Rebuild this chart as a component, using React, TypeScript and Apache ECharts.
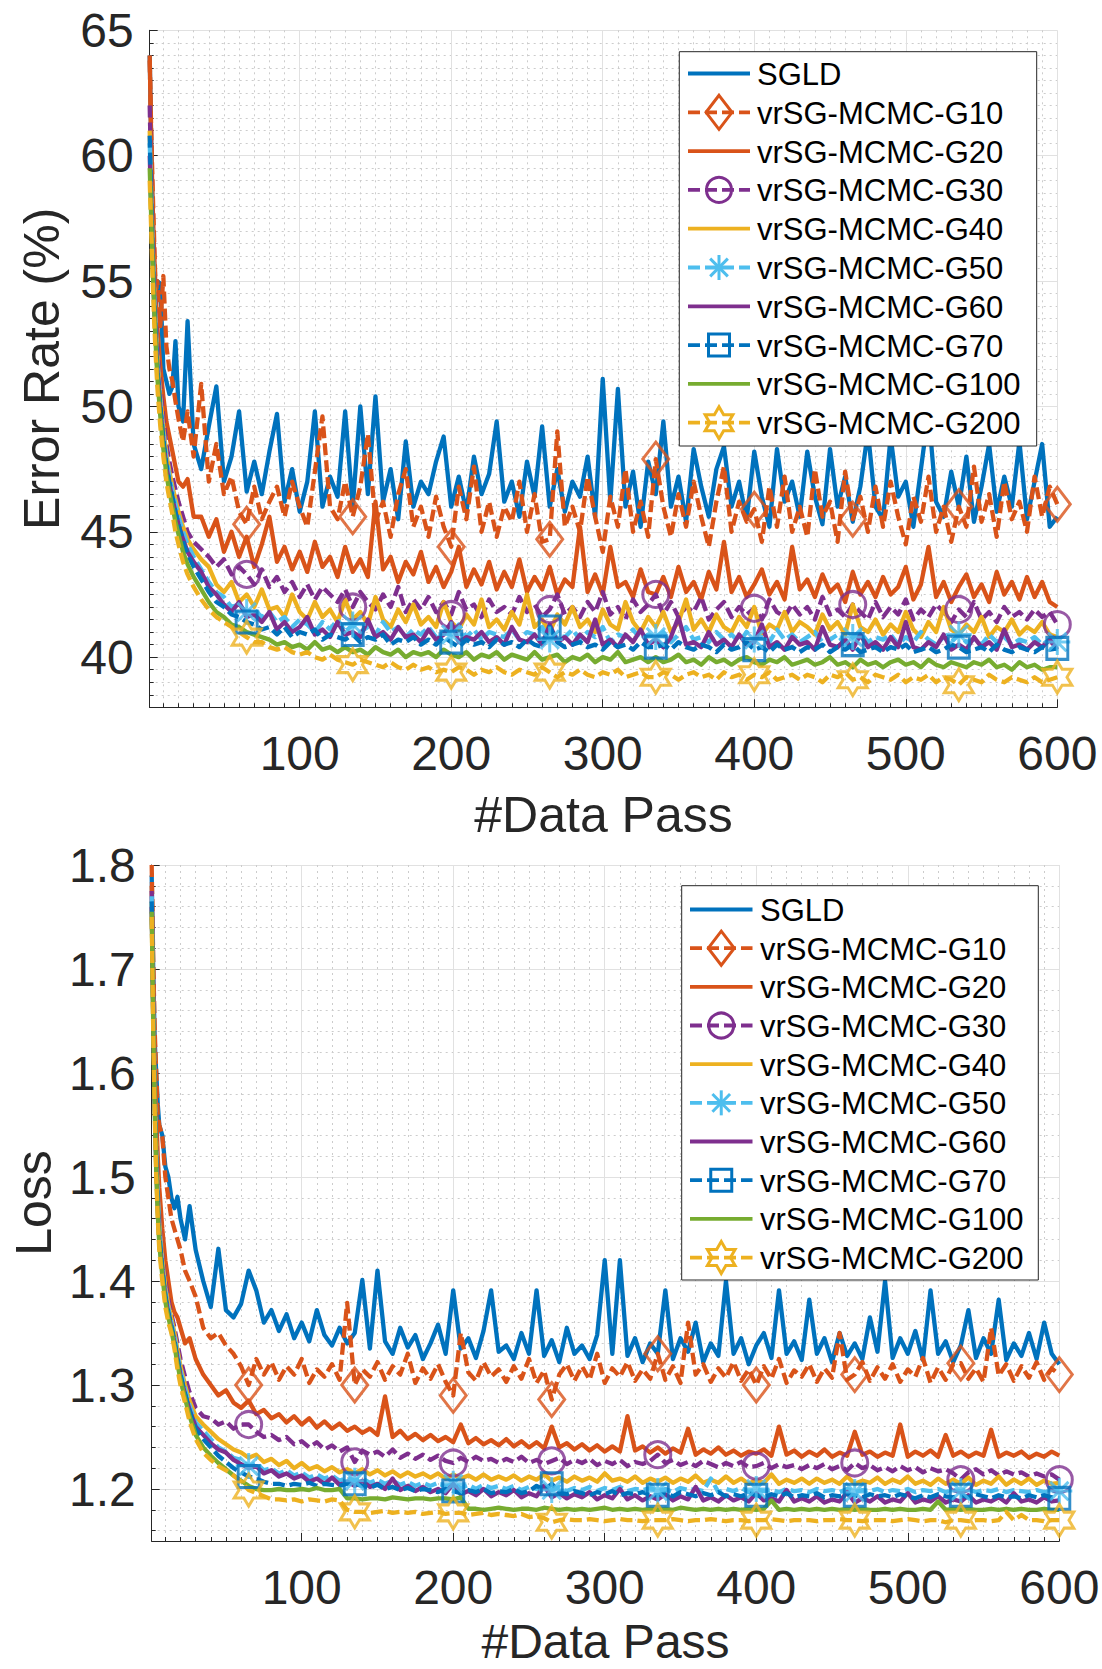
import React, { useEffect, useRef } from "react";
import * as echarts from "echarts";

// ---------- data ----------
const passes = [
  1, 2, 3, 4, 5, 6, 8, 10, 12, 14, 16, 18, 20, 23, 26, 30,
  35, 40, 45, 50, 55, 60, 65, 70, 75, 80,
  85, 90, 95, 100, 105, 110, 115, 120, 125, 130,
  135, 140, 145, 150, 155, 160, 165, 170, 175, 180,
  185, 190, 195, 200, 205, 210, 215, 220, 225, 230,
  235, 240, 245, 250, 255, 260, 265, 270, 275, 280,
  285, 290, 295, 300, 305, 310, 315, 320, 325, 330,
  335, 340, 345, 350, 355, 360, 365, 370, 375, 380,
  385, 390, 395, 400, 405, 410, 415, 420, 425, 430,
  435, 440, 445, 450, 455, 460, 465, 470, 475, 480,
  485, 490, 495, 500, 505, 510, 515, 520, 525, 530,
  535, 540, 545, 550, 555, 560, 565, 570, 575, 580,
  585, 590, 595, 600,
];

const markerPasses = [65, 135, 200, 265, 335, 400, 465, 535, 600];

const seriesNames = [
  "SGLD",
  "vrSG-MCMC-G10",
  "vrSG-MCMC-G20",
  "vrSG-MCMC-G30",
  "vrSG-MCMC-G40",
  "vrSG-MCMC-G50",
  "vrSG-MCMC-G60",
  "vrSG-MCMC-G70",
  "vrSG-MCMC-G100",
  "vrSG-MCMC-G200",
];

// Error rate (%)
const errSGLD = [
  64.0, 60.5, 57.0, 55.5, 54.0, 55.0, 54.9, 51.5, 51.0, 50.5, 50.8, 52.6, 50.0, 49.4, 53.4, 48.5,
  47.5, 49.2, 50.8, 47.0, 48.0, 49.8, 46.6, 47.8, 46.5, 48.2,
  49.7, 46.2, 47.5, 45.8, 47.0, 49.8, 46.0, 47.2, 46.4, 49.8,
  46.0, 50.0, 46.5, 50.4, 46.2, 47.5, 45.5, 48.6, 46.0, 47.0,
  46.5, 47.8, 48.8, 46.0, 47.2, 45.8, 48.0, 46.5, 47.3, 49.4,
  46.2, 47.0, 45.6, 47.8, 46.4, 49.2, 46.0, 47.5, 45.8, 47.0,
  46.4, 48.0, 45.6, 51.1, 46.2, 50.7, 46.0, 47.4, 45.2, 47.8,
  46.5, 49.4, 46.0, 47.2, 45.4, 48.3, 46.8, 45.6, 47.5, 48.4,
  46.0, 47.0, 45.5, 48.2, 46.4, 45.2, 48.3, 46.2, 47.0, 45.6,
  48.2, 46.4, 45.3, 48.3, 46.0, 47.2, 45.4, 46.8, 49.0, 46.0,
  45.5, 48.8, 46.4, 47.0, 45.2, 47.5, 49.8, 46.2, 45.6, 47.4,
  46.0, 48.0, 45.4, 46.8, 48.5, 45.8, 47.2, 46.0, 48.6, 45.5,
  47.0, 48.5, 45.2, 45.6,
];
const errG10 = [
  63.8, 61.0, 58.6, 56.5, 54.5, 55.0, 53.2, 55.2, 52.4, 51.5, 51.0, 50.2, 49.5, 48.6, 49.8, 48.0,
  50.9, 47.0, 48.5, 46.5, 47.2, 45.8, 45.3, 46.8, 45.5, 46.2,
  46.8, 45.6, 47.0, 46.0, 45.2, 47.4, 49.6, 46.0, 45.5, 47.0,
  45.6, 46.8, 48.9, 45.4, 46.2, 44.8, 46.5, 47.5, 45.2, 46.0,
  44.8, 46.4, 45.2, 44.4, 46.8, 45.5, 47.6, 45.0, 46.2, 44.8,
  46.0, 45.4, 47.0, 45.0, 46.5, 44.6, 44.7, 49.0, 45.2, 46.0,
  45.0, 47.2, 45.6, 44.2, 46.4, 45.2, 47.5, 45.0, 46.2, 44.8,
  47.9, 46.0, 44.8, 46.5, 45.2, 47.0, 45.6, 44.4, 46.2, 47.6,
  45.0, 46.2, 45.4, 45.9, 44.6, 46.8, 45.2, 47.2, 45.0, 46.0,
  44.8, 47.5, 45.6, 46.2, 44.6, 47.4, 45.5, 46.4, 45.0, 46.8,
  45.2, 47.0, 45.6, 44.5, 46.4, 45.4, 47.2, 45.0, 46.0, 44.6,
  46.0, 45.2, 47.6, 45.4, 46.5, 44.8, 47.0, 45.5, 46.2, 45.0,
  47.2, 45.6, 46.8, 46.1,
];
const errG20 = [
  64.0, 60.5, 58.0, 56.0, 54.5, 53.2, 51.6, 50.4, 49.4, 48.8, 48.2, 47.6, 47.0, 46.8, 47.1, 45.6,
  45.6, 44.8, 45.5, 44.2, 45.0, 44.0, 44.8, 43.6, 44.5, 45.6,
  43.8, 44.4, 43.5, 44.2, 43.4, 44.6, 43.6, 44.0, 43.2, 44.4,
  43.4, 43.9, 43.2, 46.2, 43.5, 44.0, 43.0, 43.8, 43.3, 44.2,
  43.0, 43.6, 42.8, 43.4, 44.4, 42.8, 43.5, 42.9, 43.8, 42.7,
  43.4, 42.8, 43.9, 42.6, 43.2, 42.7, 43.6, 42.5, 43.1, 42.8,
  45.2, 42.6, 43.3, 42.5, 44.4, 42.8, 43.0, 42.4, 43.5, 42.6,
  42.5, 43.2, 42.4, 43.6, 42.6, 43.0, 42.3, 43.4, 42.7, 44.6,
  42.6, 43.2, 42.4, 42.9, 43.5, 42.5, 43.0, 42.3, 44.4, 42.7,
  43.1, 42.4, 43.3, 42.6, 42.9, 42.2, 43.4, 42.5, 43.0, 42.4,
  43.2, 42.5, 42.8, 43.6, 42.3, 42.9, 44.4, 42.4, 43.0, 42.2,
  42.8, 43.3, 42.4, 42.9, 42.2, 43.4, 42.5, 43.0, 42.3, 43.2,
  42.4, 43.0, 42.2, 42.0,
];
const errG30 = [
  62.0, 59.0, 56.8, 55.0, 53.6, 52.4, 50.8, 49.5, 48.5, 47.8, 47.2, 46.7, 46.2, 45.6, 45.0, 44.6,
  44.3, 44.0, 43.6, 43.9, 43.3, 43.6, 43.3, 42.9, 43.5, 42.8,
  43.2, 42.6, 43.0, 42.4, 42.9, 42.3, 42.8, 42.5, 42.2, 42.7,
  42.0, 42.6, 42.2, 41.9, 42.5, 42.0, 42.8, 41.8, 42.3, 41.9,
  42.4, 41.8, 42.2, 41.7, 42.6, 41.9, 42.1, 41.6, 42.3, 41.8,
  42.0, 41.7, 42.4, 41.8, 42.1, 41.6, 41.9, 42.5, 41.7, 42.0,
  41.6, 42.2, 41.8, 42.6, 41.7, 42.0, 41.5, 42.3, 41.8, 42.1,
  42.5, 41.7, 42.2, 41.6, 42.0, 41.8, 42.4, 41.5, 41.9, 42.2,
  41.6, 42.0, 41.7, 41.95, 41.5, 42.3, 41.8, 41.6, 42.1, 41.7,
  42.0, 41.5, 42.4, 41.7, 41.9, 41.6, 42.1, 41.8, 41.5, 42.2,
  41.6, 42.0, 41.7, 42.3, 41.5, 41.9, 41.6, 42.1, 41.8, 41.4,
  41.9, 41.6, 42.2, 41.5, 41.8, 41.4, 42.0, 41.6, 41.8, 41.5,
  41.9, 41.6, 41.8, 41.3,
];
const errG40 = [
  61.0, 58.5, 56.4, 54.6, 53.2, 52.0, 50.4, 49.1, 48.1, 47.4, 46.8, 46.3, 45.8, 45.2, 44.7, 44.3,
  43.9, 43.6, 42.9, 42.6, 43.0, 42.2, 42.5, 42.0, 42.7, 41.9,
  42.0, 41.6, 42.5, 41.8, 41.5, 42.2, 41.6, 41.9, 41.4, 42.3,
  41.5, 41.8, 41.3, 42.4, 41.5, 41.2, 41.9, 41.4, 42.1, 41.3,
  41.6, 41.2, 42.2, 41.4, 41.1, 41.7, 41.3, 42.3, 41.2, 41.5,
  41.1, 41.8, 41.3, 42.5, 41.2, 41.5, 41.0, 41.7, 41.3, 42.0,
  41.2, 41.5, 41.0, 41.9, 41.3, 41.1, 42.2, 41.4, 41.0, 41.6,
  41.2, 41.8, 41.0, 41.4, 42.3, 41.1, 41.5, 41.0, 41.7, 41.2,
  41.0, 41.6, 41.2, 42.0, 40.9, 41.3, 41.1, 41.8, 41.0, 41.4,
  41.2, 40.9, 41.7, 41.1, 41.4, 40.9, 42.1, 41.2, 41.0, 41.5,
  40.9, 41.3, 41.0, 41.8, 41.1, 40.8, 41.4, 41.0, 42.0, 41.1,
  40.9, 41.3, 41.0, 41.6, 40.8, 41.2, 41.0, 41.5, 40.9, 41.2,
  41.0, 41.4, 40.9, 40.8,
];
const errG50 = [
  60.5, 58.3, 56.2, 54.4, 53.0, 51.8, 50.2, 48.9, 47.9, 47.2, 46.6, 46.1, 45.6, 45.0, 44.5, 44.0,
  43.5, 43.0, 42.6, 42.4, 42.0, 42.1, 41.8, 41.9, 41.6, 41.8,
  41.4, 41.6, 41.2, 41.5, 41.3, 41.0, 41.4, 41.1, 41.5, 41.0,
  41.3, 41.0, 41.2, 40.9, 41.4, 41.0, 41.2, 40.8, 41.1, 40.9,
  41.2, 40.8, 41.0, 40.9, 41.3, 40.8, 41.1, 40.7, 41.0, 40.9,
  40.8, 41.1, 40.7, 41.0, 40.9, 41.2, 40.7, 40.9, 40.8, 41.1,
  40.7, 41.0, 40.8, 41.2, 40.6, 40.9, 40.8, 41.1, 40.7, 40.9,
  40.8, 41.0, 40.6, 40.9, 41.2, 40.7, 40.8, 40.6, 41.0, 40.7,
  40.9, 40.6, 41.0, 40.7, 40.8, 40.6, 41.1, 40.7, 40.9, 40.6,
  40.8, 41.0, 40.6, 40.7, 40.9, 40.5, 40.8, 41.0, 40.6, 40.8,
  40.7, 40.9, 40.5, 40.8, 40.6, 41.0, 40.7, 40.5, 40.8, 40.6,
  40.9, 40.6, 40.7, 40.5, 40.9, 40.6, 40.8, 40.5, 40.7, 40.6,
  40.8, 40.5, 40.7, 40.6,
];
const errG60 = [
  60.0, 58.0, 55.8, 54.0, 52.7, 51.5, 49.9, 48.6, 47.6, 46.9, 46.3, 45.8, 45.3, 44.7, 44.2, 43.8,
  43.4, 42.8, 42.5, 42.1, 41.8, 42.2, 41.6, 41.7, 41.4, 41.8,
  41.1, 41.4, 41.0, 41.2, 41.6, 40.9, 41.1, 40.8, 41.4, 40.9,
  41.0, 40.8, 41.5, 40.8, 41.0, 40.7, 41.2, 40.8, 40.9, 40.6,
  41.1, 40.7, 40.9, 41.4, 40.6, 40.8, 40.7, 41.0, 40.6, 40.8,
  40.5, 41.2, 40.7, 40.6, 40.9, 40.5, 41.3, 40.6, 40.8, 40.5,
  40.9, 40.6, 41.5, 40.5, 40.7, 40.4, 40.9, 40.6, 41.1, 40.5,
  40.7, 40.4, 40.8, 41.6, 40.5, 40.6, 40.4, 41.0, 40.5, 40.7,
  40.4, 40.9, 40.5, 40.6, 41.3, 40.4, 40.6, 40.3, 40.8, 40.5,
  40.6, 40.3, 41.2, 40.5, 40.4, 40.7, 40.3, 40.9, 40.4, 40.6,
  40.3, 40.8, 40.4, 41.4, 40.4, 40.3, 40.6, 40.4, 40.9, 40.3,
  40.5, 40.3, 40.8, 40.4, 40.6, 40.3, 41.1, 40.4, 40.5, 40.3,
  40.6, 40.4, 40.7, 40.3,
];
const errG70 = [
  60.8, 58.2, 56.0, 54.2, 52.8, 51.6, 50.0, 48.7, 47.7, 47.0, 46.4, 45.8, 45.3, 44.6, 44.1, 43.6,
  43.1, 42.6, 42.2, 42.0, 41.7, 41.6, 41.4, 41.3, 41.1, 41.2,
  40.9, 41.2, 40.8, 41.0, 40.9, 41.1, 40.7, 40.9, 40.8, 40.7,
  40.9, 40.6, 40.8, 40.7, 40.9, 40.5, 40.7, 40.6, 40.8, 40.5,
  40.7, 40.5, 40.8, 40.6, 40.4, 40.7, 40.5, 40.6, 40.4, 40.7,
  40.5, 40.6, 40.4, 40.7, 40.5, 40.4, 41.2, 40.6, 40.4, 40.5,
  40.6, 40.4, 40.5, 40.3, 40.6, 40.4, 40.5, 40.3, 40.6, 40.4,
  40.4, 40.5, 40.3, 40.6, 40.4, 40.3, 40.5, 40.4, 40.2, 40.5,
  40.3, 40.4, 40.6, 40.3, 40.4, 40.2, 40.5, 40.3, 40.4, 40.2,
  40.4, 40.3, 40.5, 40.2, 40.4, 40.3, 40.5, 40.2, 40.3, 40.4,
  40.2, 40.4, 40.3, 40.5, 40.2, 40.3, 40.4, 40.2, 40.3, 40.5,
  40.4, 40.2, 40.3, 40.4, 40.2, 40.5, 40.3, 40.2, 40.4, 40.3,
  40.2, 40.4, 40.3, 40.35,
];
const errG100 = [
  59.5, 57.5, 55.5, 53.8, 52.4, 51.2, 49.6, 48.3, 47.3, 46.6, 46.0, 45.4, 44.9, 44.2, 43.7, 43.2,
  42.7, 42.2, 41.8, 41.6, 41.3, 41.2, 41.0, 40.9, 40.8, 40.7,
  40.5, 40.6, 40.4, 40.5, 40.3, 40.6, 40.3, 40.4, 40.2, 40.4,
  40.2, 40.3, 40.1, 40.4, 40.2, 40.1, 40.3, 40.0, 40.2, 40.1,
  40.2, 40.0, 40.3, 40.1, 40.0, 40.2, 39.9, 40.1, 40.0, 40.2,
  39.9, 40.1, 40.0, 39.9, 40.2, 39.9, 40.0, 40.1, 39.8, 40.0,
  39.9, 40.1, 39.8, 40.0, 39.9, 40.2, 39.8, 39.9, 40.0, 39.8,
  40.0, 39.8, 39.9, 40.1, 39.8, 39.9, 39.7, 40.0, 39.8, 39.9,
  39.7, 39.9, 40.0, 39.8, 39.7, 39.9, 39.8, 40.0, 39.7, 39.8,
  39.9, 39.7, 39.8, 40.0, 39.7, 39.8, 39.6, 39.9, 39.7, 39.8,
  39.6, 39.8, 39.9, 39.7, 39.8, 39.6, 39.9, 39.7, 39.6, 39.8,
  39.7, 39.6, 39.8, 39.7, 39.9, 39.6, 39.7, 39.5, 39.8, 39.6,
  39.7, 39.5, 39.6, 39.6,
];
const errG200 = [
  59.0, 57.0, 55.0, 53.3, 52.0, 50.8, 49.2, 48.0, 47.0, 46.3, 45.7, 45.0, 44.5, 43.8, 43.3, 42.8,
  42.3, 41.9, 41.6, 41.4, 41.2, 41.0, 40.8, 40.6, 40.6, 40.4,
  40.3, 40.4, 40.2, 40.1, 40.2, 40.0, 39.9, 40.1, 39.9, 39.8,
  39.7, 39.9, 39.8, 39.7, 39.6, 39.8, 39.6, 39.5, 39.7, 39.5,
  39.6, 39.4, 39.5, 39.4, 39.6, 39.5, 39.3, 39.5, 39.4, 39.6,
  39.4, 39.3, 39.5, 39.4, 39.3, 39.6, 39.4, 39.2, 39.4, 39.3,
  39.5, 39.3, 39.2, 39.4, 39.3, 39.5, 39.2, 39.3, 39.4, 39.2,
  39.2, 39.4, 39.3, 39.1, 39.3, 39.4, 39.2, 39.3, 39.1, 39.4,
  39.2, 39.3, 39.1, 39.3, 39.2, 39.4, 39.1, 39.2, 39.3, 39.1,
  39.3, 39.2, 39.0, 39.3, 39.2, 39.4, 39.1, 39.2, 39.0, 39.3,
  39.2, 39.1, 39.3, 39.0, 39.2, 39.1, 39.3, 39.0, 39.2, 39.1,
  38.9, 39.2, 39.1, 39.0, 39.3, 39.1, 39.0, 39.2, 39.1, 39.0,
  39.2, 39.0, 39.1, 39.2,
];

// Loss
const lossSGLD = [
  1.79, 1.70, 1.63, 1.60, 1.57, 1.55, 1.54, 1.51, 1.50, 1.48, 1.47, 1.481, 1.46, 1.44, 1.472, 1.43,
  1.40, 1.375, 1.431, 1.372, 1.365, 1.378, 1.41, 1.391, 1.36, 1.372,
  1.352, 1.368, 1.345, 1.36, 1.342, 1.372, 1.348, 1.338, 1.355, 1.34,
  1.35, 1.401, 1.335, 1.41, 1.342, 1.33, 1.355, 1.336, 1.348, 1.325,
  1.34, 1.358, 1.33, 1.391, 1.335, 1.345, 1.326, 1.352, 1.391, 1.332,
  1.338, 1.325, 1.35, 1.33, 1.391, 1.328, 1.343, 1.322, 1.355, 1.33,
  1.338, 1.325, 1.348, 1.42, 1.33, 1.42, 1.328, 1.345, 1.322, 1.34,
  1.33, 1.391, 1.325, 1.345, 1.332, 1.36, 1.322, 1.34, 1.328, 1.40,
  1.33, 1.345, 1.32, 1.338, 1.35, 1.326, 1.391, 1.33, 1.342, 1.324,
  1.382, 1.33, 1.345, 1.322, 1.35, 1.328, 1.34, 1.325, 1.365, 1.332,
  1.40, 1.326, 1.345, 1.33, 1.352, 1.324, 1.391, 1.33, 1.342, 1.322,
  1.338, 1.372, 1.326, 1.345, 1.33, 1.382, 1.324, 1.34, 1.328, 1.35,
  1.325, 1.36, 1.33, 1.32,
];
const lossG10 = [
  1.80, 1.71, 1.64, 1.60, 1.56, 1.55, 1.539, 1.50, 1.48, 1.46, 1.45, 1.44, 1.43, 1.41, 1.40, 1.385,
  1.355, 1.345, 1.35, 1.338, 1.33, 1.318, 1.30, 1.325, 1.31, 1.322,
  1.305, 1.318, 1.31, 1.325, 1.302, 1.315, 1.308, 1.32, 1.305, 1.379,
  1.30, 1.315, 1.308, 1.322, 1.305, 1.318, 1.31, 1.33, 1.302, 1.316,
  1.306, 1.32, 1.303, 1.29, 1.35, 1.312, 1.304, 1.322, 1.308, 1.315,
  1.303, 1.318, 1.306, 1.325, 1.302, 1.314, 1.286, 1.31, 1.32, 1.304,
  1.318, 1.305, 1.33, 1.302, 1.316, 1.308, 1.322, 1.304, 1.315, 1.306,
  1.33, 1.305, 1.318, 1.302, 1.36, 1.31, 1.32, 1.303, 1.316, 1.307,
  1.322, 1.304, 1.315, 1.30, 1.318, 1.306, 1.325, 1.302, 1.314, 1.308,
  1.32, 1.303, 1.316, 1.307, 1.35, 1.305, 1.31, 1.322, 1.304, 1.317,
  1.306, 1.32, 1.303, 1.315, 1.308, 1.326, 1.302, 1.317, 1.305, 1.32,
  1.321, 1.306, 1.316, 1.303, 1.355, 1.309, 1.32, 1.304, 1.318, 1.307,
  1.322, 1.305, 1.316, 1.31,
];
const lossG20 = [
  1.78, 1.68, 1.61, 1.56, 1.52, 1.49, 1.45, 1.42, 1.40, 1.38, 1.37, 1.365, 1.355, 1.34, 1.345, 1.325,
  1.31, 1.30, 1.29, 1.295, 1.283, 1.278, 1.285, 1.272, 1.276, 1.268,
  1.272, 1.264, 1.27, 1.262, 1.268, 1.259, 1.265, 1.258, 1.263, 1.256,
  1.26, 1.254, 1.258, 1.252, 1.289, 1.25, 1.256, 1.248, 1.253, 1.247,
  1.252, 1.246, 1.25, 1.245, 1.262, 1.244, 1.249, 1.243, 1.247, 1.242,
  1.248, 1.241, 1.246, 1.24, 1.245, 1.239, 1.26, 1.24, 1.244, 1.238,
  1.243, 1.237, 1.242, 1.236, 1.241, 1.236, 1.27, 1.237, 1.241, 1.235,
  1.24, 1.234, 1.239, 1.235, 1.258, 1.233, 1.238, 1.234, 1.24, 1.233,
  1.237, 1.232, 1.236, 1.234, 1.238, 1.232, 1.26, 1.233, 1.237, 1.231,
  1.236, 1.232, 1.238, 1.231, 1.235, 1.232, 1.255, 1.233, 1.236, 1.231,
  1.235, 1.232, 1.262, 1.231, 1.236, 1.232, 1.237, 1.231, 1.252, 1.232,
  1.236, 1.231, 1.235, 1.232, 1.257, 1.231, 1.235, 1.232, 1.236, 1.23,
  1.234, 1.231, 1.236, 1.232,
];
const lossG30 = [
  1.775, 1.67, 1.59, 1.53, 1.49, 1.46, 1.425, 1.40, 1.382, 1.368, 1.355, 1.34, 1.325, 1.308, 1.293, 1.278,
  1.27, 1.268, 1.262, 1.265, 1.258, 1.262, 1.262, 1.255, 1.25, 1.252,
  1.247, 1.25, 1.243, 1.246, 1.24, 1.245, 1.238, 1.242, 1.236, 1.24,
  1.226, 1.237, 1.233, 1.236, 1.231, 1.238, 1.23, 1.234, 1.229, 1.233,
  1.228, 1.232, 1.227, 1.225, 1.23, 1.226, 1.231, 1.227, 1.229, 1.225,
  1.229, 1.226, 1.231, 1.225, 1.228, 1.224, 1.227, 1.23, 1.224, 1.228,
  1.225, 1.229, 1.223, 1.227, 1.224, 1.228, 1.222, 1.226, 1.224, 1.227,
  1.233, 1.225, 1.228, 1.223, 1.226, 1.222, 1.227, 1.224, 1.221, 1.225,
  1.222, 1.226, 1.221, 1.222, 1.225, 1.22, 1.224, 1.221, 1.223, 1.219,
  1.223, 1.22, 1.224, 1.219, 1.222, 1.218, 1.225, 1.22, 1.223, 1.218,
  1.221, 1.217, 1.222, 1.218, 1.221, 1.216, 1.22, 1.217, 1.219, 1.215,
  1.209, 1.216, 1.219, 1.214, 1.218, 1.213, 1.217, 1.214, 1.216, 1.212,
  1.215, 1.212, 1.214, 1.209,
];
const lossG40 = [
  1.765, 1.66, 1.585, 1.525, 1.485, 1.455, 1.42, 1.394, 1.377, 1.364, 1.35, 1.334, 1.318, 1.30, 1.285, 1.27,
  1.262, 1.255, 1.248, 1.243, 1.238, 1.235, 1.23, 1.233, 1.226, 1.229,
  1.223, 1.227, 1.22, 1.225, 1.219, 1.222, 1.217, 1.221, 1.216, 1.219,
  1.215, 1.219, 1.214, 1.218, 1.213, 1.217, 1.212, 1.216, 1.212, 1.215,
  1.211, 1.215, 1.21, 1.214, 1.21, 1.213, 1.209, 1.214, 1.209, 1.212,
  1.209, 1.213, 1.208, 1.212, 1.209, 1.214, 1.208, 1.211, 1.207, 1.212,
  1.208, 1.211, 1.207, 1.215, 1.208, 1.21, 1.207, 1.212, 1.206, 1.21,
  1.207, 1.211, 1.206, 1.21, 1.207, 1.213, 1.206, 1.209, 1.206, 1.212,
  1.206, 1.21, 1.205, 1.209, 1.206, 1.214, 1.205, 1.209, 1.206, 1.21,
  1.205, 1.21, 1.206, 1.209, 1.205, 1.212, 1.205, 1.208, 1.206, 1.211,
  1.205, 1.209, 1.206, 1.212, 1.205, 1.208, 1.204, 1.21, 1.205, 1.209,
  1.205, 1.211, 1.204, 1.208, 1.205, 1.212, 1.204, 1.209, 1.205, 1.21,
  1.204, 1.208, 1.205, 1.206,
];
const lossG50 = [
  1.77, 1.66, 1.58, 1.52, 1.48, 1.45, 1.415, 1.39, 1.373, 1.36, 1.346, 1.33, 1.314, 1.296, 1.28, 1.264,
  1.256, 1.248, 1.24, 1.236, 1.23, 1.228, 1.222, 1.225, 1.218, 1.22,
  1.215, 1.218, 1.213, 1.216, 1.211, 1.214, 1.21, 1.213, 1.208, 1.211,
  1.208, 1.21, 1.206, 1.209, 1.205, 1.208, 1.204, 1.207, 1.203, 1.206,
  1.203, 1.206, 1.202, 1.205, 1.201, 1.204, 1.2, 1.204, 1.201, 1.203,
  1.2, 1.203, 1.199, 1.202, 1.2, 1.203, 1.199, 1.202, 1.198, 1.201,
  1.199, 1.202, 1.198, 1.201, 1.199, 1.202, 1.198, 1.2, 1.199, 1.201,
  1.198, 1.2, 1.197, 1.201, 1.199, 1.2, 1.198, 1.21, 1.197, 1.2,
  1.198, 1.201, 1.197, 1.2, 1.198, 1.199, 1.197, 1.2, 1.198, 1.199,
  1.197, 1.2, 1.198, 1.199, 1.197, 1.2, 1.197, 1.199, 1.198, 1.2,
  1.197, 1.199, 1.198, 1.2, 1.197, 1.199, 1.198, 1.2, 1.197, 1.199,
  1.198, 1.2, 1.197, 1.199, 1.198, 1.2, 1.197, 1.199, 1.198, 1.197,
  1.199, 1.197, 1.198, 1.198,
];
const lossG60 = [
  1.76, 1.65, 1.57, 1.51, 1.47, 1.44, 1.41, 1.385, 1.368, 1.355, 1.341, 1.325, 1.309, 1.291, 1.276, 1.26,
  1.252, 1.244, 1.238, 1.235, 1.228, 1.224, 1.22, 1.222, 1.215, 1.218,
  1.212, 1.215, 1.21, 1.213, 1.207, 1.21, 1.205, 1.211, 1.204, 1.207,
  1.203, 1.208, 1.202, 1.205, 1.2, 1.21, 1.199, 1.203, 1.198, 1.202,
  1.197, 1.2, 1.196, 1.205, 1.195, 1.198, 1.194, 1.2, 1.193, 1.197,
  1.194, 1.199, 1.192, 1.196, 1.193, 1.203, 1.192, 1.196, 1.191, 1.195,
  1.192, 1.197, 1.19, 1.194, 1.191, 1.2, 1.19, 1.194, 1.189, 1.193,
  1.19, 1.195, 1.189, 1.193, 1.19, 1.202, 1.189, 1.192, 1.188, 1.194,
  1.189, 1.192, 1.188, 1.196, 1.189, 1.191, 1.188, 1.199, 1.188, 1.191,
  1.188, 1.193, 1.187, 1.19, 1.188, 1.197, 1.187, 1.191, 1.188, 1.193,
  1.187, 1.19, 1.188, 1.196, 1.187, 1.19, 1.188, 1.193, 1.187, 1.19,
  1.188, 1.194, 1.187, 1.19, 1.188, 1.192, 1.187, 1.196, 1.188, 1.19,
  1.187, 1.192, 1.188, 1.189,
];
const lossG70 = [
  1.765, 1.655, 1.575, 1.515, 1.475, 1.445, 1.412, 1.386, 1.37, 1.357, 1.343, 1.326, 1.31, 1.292, 1.275, 1.258,
  1.248, 1.24, 1.232, 1.226, 1.22, 1.216, 1.212, 1.21, 1.207, 1.205,
  1.205, 1.203, 1.205, 1.204, 1.206, 1.203, 1.205, 1.204, 1.203, 1.205,
  1.205, 1.203, 1.201, 1.204, 1.2, 1.202, 1.199, 1.201, 1.198, 1.2,
  1.199, 1.197, 1.2, 1.198, 1.196, 1.199, 1.197, 1.2, 1.196, 1.198,
  1.197, 1.2, 1.196, 1.198, 1.203, 1.199, 1.205, 1.197, 1.195, 1.198,
  1.196, 1.194, 1.197, 1.195, 1.198, 1.194, 1.196, 1.195, 1.197, 1.194,
  1.194, 1.196, 1.193, 1.197, 1.195, 1.193, 1.196, 1.194, 1.197, 1.193,
  1.195, 1.193, 1.196, 1.194, 1.192, 1.195, 1.193, 1.196, 1.192, 1.194,
  1.193, 1.196, 1.192, 1.194, 1.193, 1.195, 1.194, 1.192, 1.195, 1.193,
  1.194, 1.192, 1.195, 1.193, 1.191, 1.194, 1.192, 1.195, 1.193, 1.192,
  1.194, 1.192, 1.195, 1.193, 1.191, 1.194, 1.192, 1.193, 1.191, 1.194,
  1.192, 1.194, 1.192, 1.191,
];
const lossG100 = [
  1.755, 1.645, 1.565, 1.505, 1.465, 1.435, 1.405, 1.38, 1.365, 1.352, 1.338, 1.32, 1.305, 1.287, 1.27, 1.252,
  1.24, 1.232, 1.225, 1.219, 1.213, 1.208, 1.203, 1.2, 1.199, 1.199,
  1.2, 1.199, 1.199, 1.2, 1.199, 1.201, 1.199, 1.199, 1.2, 1.191,
  1.191, 1.19, 1.191, 1.191, 1.19, 1.192, 1.191, 1.19, 1.191, 1.191,
  1.19, 1.191, 1.191, 1.19, 1.192, 1.181, 1.181, 1.18, 1.181, 1.182,
  1.181, 1.18, 1.181, 1.181, 1.18, 1.182, 1.181, 1.18, 1.181, 1.18,
  1.181, 1.18, 1.181, 1.182, 1.18, 1.181, 1.18, 1.181, 1.18, 1.181,
  1.18, 1.181, 1.18, 1.182, 1.181, 1.18, 1.181, 1.18, 1.181, 1.18,
  1.181, 1.18, 1.181, 1.18, 1.181, 1.189, 1.18, 1.181, 1.18, 1.181,
  1.18, 1.181, 1.18, 1.181, 1.18, 1.181, 1.18, 1.181, 1.18, 1.18,
  1.181, 1.18, 1.181, 1.18, 1.18, 1.181, 1.18, 1.188, 1.18, 1.181,
  1.18, 1.181, 1.18, 1.18, 1.181, 1.18, 1.181, 1.18, 1.181, 1.18,
  1.18, 1.181, 1.18, 1.18,
];
const lossG200 = [
  1.75, 1.64, 1.56, 1.50, 1.46, 1.43, 1.40, 1.375, 1.36, 1.35, 1.335, 1.315, 1.30, 1.283, 1.265, 1.248,
  1.235, 1.228, 1.222, 1.218, 1.213, 1.207, 1.199, 1.196, 1.193, 1.19,
  1.19, 1.189, 1.19, 1.188, 1.19, 1.189, 1.188, 1.19, 1.189, 1.18,
  1.178, 1.178, 1.177, 1.178, 1.179, 1.177, 1.178, 1.177, 1.178, 1.176,
  1.177, 1.178, 1.176, 1.177, 1.177, 1.175, 1.176, 1.177, 1.175, 1.176,
  1.175, 1.174, 1.176, 1.173, 1.174, 1.172, 1.168, 1.17, 1.171, 1.17,
  1.17, 1.171, 1.17, 1.169, 1.17, 1.171, 1.17, 1.17, 1.169, 1.17,
  1.17, 1.17, 1.171, 1.17, 1.169, 1.17, 1.17, 1.171, 1.17, 1.169,
  1.17, 1.17, 1.169, 1.17, 1.17, 1.171, 1.17, 1.169, 1.17, 1.17,
  1.17, 1.169, 1.17, 1.17, 1.171, 1.17, 1.17, 1.169, 1.17, 1.17,
  1.17, 1.169, 1.17, 1.171, 1.17, 1.169, 1.17, 1.17, 1.168, 1.17,
  1.17, 1.169, 1.17, 1.17, 1.169, 1.17, 1.178, 1.17, 1.175, 1.17,
  1.17, 1.169, 1.17, 1.17,
];

const errorRate = [errSGLD, errG10, errG20, errG30, errG40, errG50, errG60, errG70, errG100, errG200];
const lossData = [lossSGLD, lossG10, lossG20, lossG30, lossG40, lossG50, lossG60, lossG70, lossG100, lossG200];

// ---------- styling ----------
const FONT = "'Liberation Sans', Arial, Helvetica, sans-serif";
const TEXT = "#262626";
const DASH = [12, 5];
const LW = 4.3;
const MW = 3;

type Sty = { color: string; dashed: boolean; marker: string | null };
const styles: Sty[] = [
  { color: "#0072BD", dashed: false, marker: null },
  { color: "#D95319", dashed: true, marker: "diamond" },
  { color: "#D95319", dashed: false, marker: null },
  { color: "#7E2F8E", dashed: true, marker: "circle" },
  { color: "#EDB120", dashed: false, marker: null },
  { color: "#4DBEEE", dashed: true, marker: "asterisk" },
  { color: "#7E2F8E", dashed: false, marker: null },
  { color: "#0072BD", dashed: true, marker: "square" },
  { color: "#77AC30", dashed: false, marker: null },
  { color: "#EDB120", dashed: true, marker: "hexagram" },
];

const HEX_PATH =
  "path://M0,-100L28.87,-50L86.6,-50L57.7,0L86.6,50L28.87,50L0,100L-28.87,50L-86.6,50L-57.7,0L-86.6,-50L-28.87,-50Z";
const AST_PATH = "path://M0,-100L0,100M-100,0L100,0M-70.7,-70.7L70.7,70.7M-70.7,70.7L70.7,-70.7";

const symbolFor: Record<string, { symbol: string; size: number[] }> = {
  diamond: { symbol: "diamond", size: [26, 34] },
  circle: { symbol: "circle", size: [26, 26] },
  square: { symbol: "rect", size: [21, 22] },
  asterisk: { symbol: AST_PATH, size: [26, 26] },
  hexagram: { symbol: HEX_PATH, size: [29, 32] },
};

const HEX_UNIT = [
  [0, -1], [0.2887, -0.5], [0.866, -0.5], [0.577, 0], [0.866, 0.5], [0.2887, 0.5],
  [0, 1], [-0.2887, 0.5], [-0.866, 0.5], [-0.577, 0], [-0.866, -0.5], [-0.2887, -0.5],
];

function buildSeries(all: number[][], axis: number) {
  const out: any[] = [];
  all.forEach((vals, k) => {
    const st = styles[k];
    out.push({
      type: "line",
      name: seriesNames[k],
      xAxisIndex: axis,
      yAxisIndex: axis,
      data: passes.map((p, i) => [p, vals[i]]),
      showSymbol: false,
      symbol: "none",
      silent: true,
      lineStyle: {
        color: st.color,
        width: LW,
        type: st.dashed ? DASH : "solid",
        join: "round",
      },
      itemStyle: { color: st.color },
      z: 2,
    });
    if (st.marker) {
      const sm = symbolFor[st.marker];
      out.push({
        type: "scatter",
        name: seriesNames[k] + " markers",
        xAxisIndex: axis,
        yAxisIndex: axis,
        data: markerPasses.map((p) => [p, vals[passes.indexOf(p)]]),
        symbol: sm.symbol,
        symbolSize: sm.size,
        silent: true,
        itemStyle: { color: "rgba(0,0,0,0)", borderColor: st.color, borderWidth: MW },
        z: 2,
      });
    }
  });
  return out;
}

function markerEls(m: string | null, cx: number, cy: number, color: string) {
  const s = { fill: "none", stroke: color, lineWidth: MW };
  if (m === "diamond")
    return [{ type: "polygon", z: 102, shape: { points: [[cx, cy - 17], [cx + 13, cy], [cx, cy + 17], [cx - 13, cy]] }, style: s }];
  if (m === "circle") return [{ type: "circle", z: 102, shape: { cx, cy, r: 12.5 }, style: s }];
  if (m === "square") return [{ type: "rect", z: 102, shape: { x: cx - 10.5, y: cy - 11, width: 21, height: 22 }, style: s }];
  if (m === "hexagram")
    return [{ type: "polygon", z: 102, shape: { points: HEX_UNIT.map(([a, b]) => [cx + a * 16, cy + b * 16]) }, style: s }];
  if (m === "asterisk") {
    const r = 12.5;
    const d = r * 0.707;
    return [
      [0, -r, 0, r],
      [-r, 0, r, 0],
      [-d, -d, d, d],
      [-d, d, d, -d],
    ].map(([a, b, c, e]) => ({
      type: "line",
      z: 102,
      shape: { x1: cx + a, y1: cy + b, x2: cx + c, y2: cy + e },
      style: { stroke: color, lineWidth: MW },
    }));
  }
  return [];
}

function legendEls(box: number[], row0: number, step: number, lx0: number, lx1: number, tx: number) {
  const [l, t, r, b] = box;
  const els: any[] = [
    {
      type: "rect",
      z: 100,
      shape: { x: l, y: t, width: r - l, height: b - t },
      style: { fill: "#ffffff", stroke: TEXT, lineWidth: 1 },
    },
  ];
  seriesNames.forEach((name, k) => {
    const st = styles[k];
    const y = row0 + k * step;
    const cx = (lx0 + lx1) / 2;
    const ls: any = { stroke: st.color, lineWidth: 3.8 };
    if (st.dashed) ls.lineDash = DASH;
    els.push({ type: "line", z: 101, shape: { x1: lx0, y1: y, x2: lx1, y2: y }, style: ls });
    markerEls(st.marker, cx, y, st.color).forEach((e) => els.push(e));
    els.push({
      type: "text",
      z: 101,
      x: tx,
      y: y + 1,
      style: {
        text: name,
        fontSize: 31,
        fontFamily: FONT,
        fill: "#000000",
        align: "left",
        verticalAlign: "middle",
      },
    });
  });
  return els;
}

function xAxisCfg(gridIndex: number, nameGap: number, nameSize: number) {
  return {
    type: "value",
    gridIndex,
    min: 1,
    max: 600,
    minInterval: 100,
    maxInterval: 100,
    name: "#Data Pass",
    nameLocation: "middle",
    nameGap,
    nameMoveOverlap: false,
    nameTextStyle: { fontSize: nameSize, color: TEXT, fontFamily: FONT },
    axisLine: { show: true, onZero: false, lineStyle: { color: TEXT, width: 1 } },
    axisTick: { show: true, inside: true, length: 8, lineStyle: { color: TEXT } },
    minorTick: { show: true, splitNumber: 10, length: 4, lineStyle: { color: TEXT } },
    splitLine: { show: true, lineStyle: { color: "#e1e1e1", width: 1 } },
    minorSplitLine: { show: true, lineStyle: { color: "#cccccc", width: 1, type: [2, 4] } },
    axisLabel: {
      show: true,
      margin: 22,
      fontSize: 48,
      color: TEXT,
      fontFamily: FONT,
      formatter: (v: number) => (v % 100 === 0 ? String(v) : ""),
    },
  };
}

export default function App() {
  const ref = useRef<HTMLDivElement>(null);

  useEffect(() => {
    if (!ref.current) return;
    const chart = echarts.init(ref.current, undefined, { renderer: "svg" });

    const option: any = {
      animation: false,
      backgroundColor: "#ffffff",
      textStyle: { fontFamily: FONT },
      grid: [
        { left: 149.7, top: 30.3, width: 907.6, height: 677, containLabel: false, outerBoundsMode: "none" },
        { left: 151.7, top: 865, width: 907.6, height: 676, containLabel: false, outerBoundsMode: "none" },
      ],
      xAxis: [xAxisCfg(0, 83, 50), xAxisCfg(1, 76, 48)],
      yAxis: [
        {
          type: "value",
          gridIndex: 0,
          min: 38,
          max: 65,
          minInterval: 5,
          maxInterval: 5,
          name: "Error Rate (%)",
          nameLocation: "middle",
          nameRotate: 90,
          nameGap: 83,
          nameMoveOverlap: false,
          nameTextStyle: { fontSize: 50, color: TEXT, fontFamily: FONT },
          axisLine: { show: true, onZero: false, lineStyle: { color: TEXT, width: 1 } },
          axisTick: { show: true, inside: true, length: 8, lineStyle: { color: TEXT } },
          minorTick: { show: true, splitNumber: 10, length: 4, lineStyle: { color: TEXT } },
          splitLine: { show: true, lineStyle: { color: "#e1e1e1", width: 1 } },
          minorSplitLine: { show: true, lineStyle: { color: "#cccccc", width: 1, type: [2, 4] } },
          axisLabel: {
            show: true,
            margin: 16,
            fontSize: 48,
            color: TEXT,
            fontFamily: FONT,
            formatter: (v: number) => (Math.abs(v % 5) < 1e-9 ? String(v) : ""),
          },
        },
        {
          type: "value",
          gridIndex: 1,
          min: 1.15,
          max: 1.8,
          minInterval: 0.1,
          maxInterval: 0.1,
          name: "Loss",
          nameLocation: "middle",
          nameRotate: 90,
          nameGap: 93,
          nameMoveOverlap: false,
          nameTextStyle: { fontSize: 50, color: TEXT, fontFamily: FONT },
          axisLine: { show: true, onZero: false, lineStyle: { color: TEXT, width: 1 } },
          axisTick: { show: true, inside: true, length: 8, lineStyle: { color: TEXT } },
          minorTick: { show: true, splitNumber: 5, length: 4, lineStyle: { color: TEXT } },
          splitLine: { show: true, lineStyle: { color: "#e1e1e1", width: 1 } },
          minorSplitLine: { show: true, lineStyle: { color: "#cccccc", width: 1, type: [2, 4] } },
          axisLabel: {
            show: true,
            margin: 16,
            fontSize: 48,
            color: TEXT,
            fontFamily: FONT,
            formatter: (v: number) => {
              const r = Math.round(v * 10);
              return Math.abs(v * 10 - r) < 1e-6 ? (r / 10).toFixed(1) : "";
            },
          },
        },
      ],
      series: [...buildSeries(errorRate, 0), ...buildSeries(lossData, 1)],
      graphic: {
        elements: [
          ...legendEls([679.3, 51.7, 1036.7, 446], 73.5, 38.8, 688, 750, 757),
          ...legendEls([681.7, 885.7, 1038.3, 1280], 909.5, 38.67, 690, 752.5, 760),
        ],
      },
    };

    chart.setOption(option);
    return () => {
      chart.dispose();
    };
  }, []);

  return (
    <div
      ref={ref}
      style={{ position: "absolute", left: 0, top: 0, width: 1102, height: 1669, background: "#ffffff" }}
    />
  );
}
